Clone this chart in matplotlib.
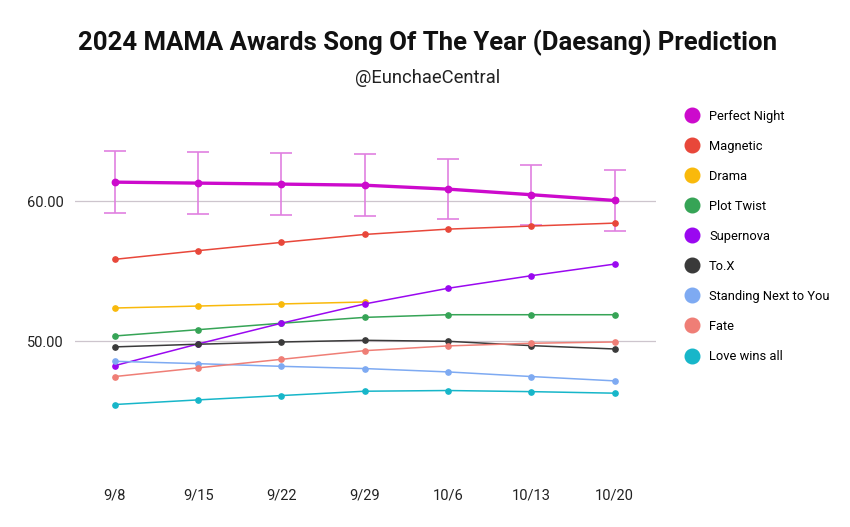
import numpy as np
import matplotlib
matplotlib.use("Agg")
import matplotlib.pyplot as plt
from matplotlib.lines import Line2D

plt.rcParams['font.family'] = ['Roboto', 'DejaVu Sans']

# weeks on the x axis
weeks = ["9/8", "9/15", "9/22", "9/29", "10/6", "10/13", "10/20"]

# predicted scores
perfect_night = [61.38, 61.31, 61.24, 61.16, 60.88, 60.48, 60.07]
perfect_night_err = [2.2, 2.2, 2.2, 2.2, 2.15, 2.15, 2.2]
magnetic = [55.86, 56.48, 57.07, 57.64, 58.02, 58.24, 58.45]
drama = [52.38, 52.52, 52.67, 52.81, None, None, None]
plot_twist = [50.38, 50.83, 51.29, 51.71, 51.90, 51.90, 51.90]
supernova = [48.26, 49.81, 51.29, 52.67, 53.79, 54.69, 55.52]
to_x = [49.60, 49.79, 49.95, 50.07, 50.00, 49.69, 49.45]
standing_next = [48.57, 48.40, 48.21, 48.05, 47.81, 47.48, 47.17]
fate = [47.48, 48.10, 48.71, 49.33, 49.67, 49.86, 49.95]
love_wins_all = [45.48, 45.81, 46.12, 46.43, 46.48, 46.40, 46.29]

songs = ["Perfect Night", "Magnetic", "Drama", "Plot Twist", "Supernova",
         "To.X", "Standing Next to You", "Fate", "Love wins all"]
values = [perfect_night, magnetic, drama, plot_twist, supernova,
          to_x, standing_next, fate, love_wins_all]
colors = ["#cc0acc", "#e8473a", "#f9b90b", "#36a456", "#9a08f0",
          "#3a3a3a", "#7eaaf2", "#ef7e76", "#17b6c9"]

fig = plt.figure(figsize=(8.5, 5.27), dpi=100)
ax = fig.add_axes([0.088, 0.087, 0.684, 0.69])

x = np.arange(len(weeks))

# error bars for the leader
ax.errorbar(x, perfect_night, yerr=perfect_night_err, fmt='none',
            ecolor='#e080e0', elinewidth=1.2, capsize=8, capthick=1.2, zorder=2)

for name, vals, c in zip(songs, values, colors):
    v = np.array([np.nan if a is None else a for a in vals], dtype=float)
    if name == "Perfect Night":
        ax.plot(x, v, color=c, lw=2.4, marker='o', markersize=4.6, zorder=3)
    else:
        ax.plot(x, v, color=c, lw=1.1, marker='o', markersize=3.8, zorder=3)

ax.set_xlim(-0.48, 6.5)
ax.set_ylim(40, 66)
ax.set_yticks([50, 60])
ax.set_yticklabels(["50.00", "60.00"])
ax.set_xticks(x)
ax.set_xticklabels(weeks)
ax.tick_params(axis='both', length=0, labelsize=10.5, colors='#222222')
ax.tick_params(axis='x', pad=5)
ax.tick_params(axis='y', pad=8)
ax.grid(axis='y', color='#cdc5cd', lw=0.9)
ax.set_axisbelow(True)
for s in ax.spines.values():
    s.set_visible(False)

fig.text(0.503, 0.918, "2024 MAMA Awards Song Of The Year (Daesang) Prediction",
         ha='center', va='center', fontsize=18.5, fontweight='bold', color='#111111')
fig.text(0.503, 0.852, "@EunchaeCentral", ha='center', va='center',
         fontsize=13.2, color='#222222')

handles = [Line2D([], [], marker='o', linestyle='none', markersize=10.5,
                  markerfacecolor=c, markeredgecolor=c) for c in colors]
fig.legend(handles, songs, loc='upper left', bbox_to_anchor=(0.791, 0.814),
           frameon=False, fontsize=9.3, labelspacing=1.32, handletextpad=0.75,
           handlelength=1.2)

fig.savefig("out.png", dpi=100, facecolor='white')
